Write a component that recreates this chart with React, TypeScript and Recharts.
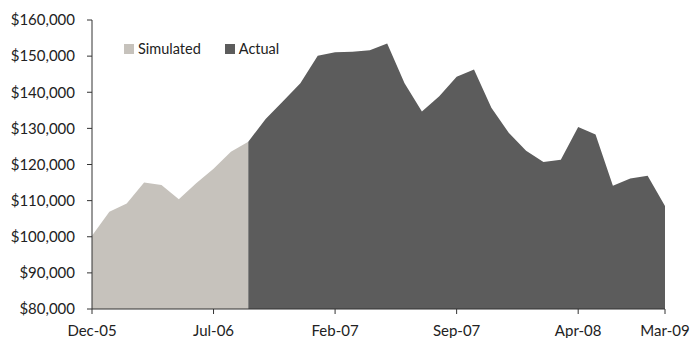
import React from "react";
import { Area, AreaChart, Legend, XAxis, YAxis } from "recharts";

// Month labels, one per data point
const months = [
  "Dec-05", "Jan-06", "Feb-06", "Mar-06", "Apr-06", "May-06", "Jun-06", "Jul-06",
  "Aug-06", "Sep-06", "Oct-06", "Nov-06", "Dec-06", "Jan-07", "Feb-07", "Mar-07",
  "Apr-07", "May-07", "Jun-07", "Jul-07", "Aug-07", "Sep-07", "Oct-07", "Nov-07",
  "Dec-07", "Jan-08", "Feb-08", "Mar-08", "Apr-08", "May-08", "Jun-08", "Jul-08",
  "Aug-08", "Mar-09"
];

const simulated = [
  100250, 106900, 109200, 115000, 114300, 110400, 114800, 118800, 123500, 126300
];

const actual = [
  126300, 132600, 137500, 142500, 150100, 151050, 151200, 151600, 153500, 142500,
  134700, 138900, 144300, 146300, 135700, 128800, 123800, 120700, 121300, 130400,
  128300, 114100, 116100, 116900, 108500
];

const actualStart = simulated.length - 1;

const xTicks = [0, 7, 14, 21, 28, 33];
const yTicks = [80000, 90000, 100000, 110000, 120000, 130000, 140000, 150000, 160000];

const data = months.map((m, i) => ({
  idx: i,
  month: m,
  simulated: i < simulated.length ? simulated[i] : null,
  actual: i >= actualStart ? actual[i - actualStart] : null
}));

const SIM_COLOR = "#c6c2bc";
const ACT_COLOR = "#5c5c5c";
const AXIS_COLOR = "#333333";
const FONT = "Lato, 'Open Sans', sans-serif";

const legendItems = [
  { label: "Simulated", color: SIM_COLOR },
  { label: "Actual", color: ACT_COLOR }
];

function LegendContent() {
  return (
    <div style={{ display: "flex", alignItems: "center", fontFamily: FONT, fontSize: 14.5, color: "#222" }}>
      {legendItems.map((it, i) => (
        <div key={it.label} style={{ display: "flex", alignItems: "center", marginRight: i === 0 ? 24 : 0 }}>
          <span style={{ width: 10, height: 10, background: it.color, display: "inline-block", marginRight: 4 }} />
          <span>{it.label}</span>
        </div>
      ))}
    </div>
  );
}

export default function App() {
  return (
    <div style={{ position: "absolute", left: 0, top: 0, width: 697, height: 338, background: "#fff" }}>
      <AreaChart width={697} height={338} data={data} margin={{ top: 20, right: 32, left: 0, bottom: 0 }}>
        <XAxis
          dataKey="idx"
          type="number"
          domain={[0, 33]}
          ticks={xTicks}
          tickFormatter={(v) => months[v]}
          height={29}
          tickSize={5}
          tickMargin={11}
          stroke={AXIS_COLOR}
          tick={{ fontSize: 15, fill: "#222", fontFamily: FONT }}
        />
        <YAxis
          domain={[80000, 160000]}
          ticks={yTicks}
          width={92}
          tickSize={5}
          tickMargin={12}
          stroke={AXIS_COLOR}
          tickFormatter={(v) => `$${Number(v).toLocaleString("en-US")}`}
          tick={{ fontSize: 15, fill: "#222", fontFamily: FONT }}
        />
        <Legend
          layout="horizontal"
          verticalAlign="middle"
          align="center"
          content={() => <LegendContent />}
          wrapperStyle={{ left: 124, top: 40, width: "auto" }}
        />
        <Area
          type="linear"
          dataKey="simulated"
          name="Simulated"
          stroke="none"
          fill={SIM_COLOR}
          fillOpacity={1}
          isAnimationActive={false}
        />
        <Area
          type="linear"
          dataKey="actual"
          name="Actual"
          stroke="none"
          fill={ACT_COLOR}
          fillOpacity={1}
          isAnimationActive={false}
        />
      </AreaChart>
    </div>
  );
}
